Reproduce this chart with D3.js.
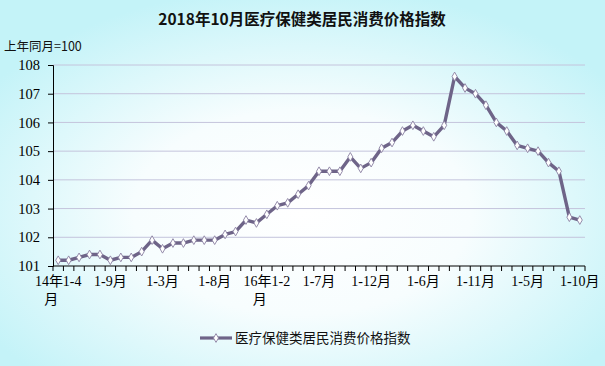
<!DOCTYPE html>
<html><head><meta charset="utf-8">
<script src="https://cdn.jsdelivr.net/npm/d3@7"></script>
<style>html,body{margin:0;padding:0;}svg{display:block;}</style>
</head><body>
<script>
const title = "2018年10月医疗保健类居民消费价格指数";
const yAxisLabel = "上年同月=100";
const seriesName = "医疗保健类居民消费价格指数";
const categories = [
  "14年1-4月","1-5月","1-6月","1-7月","1-8月","1-9月","1-10月","1-11月","1-12月",
  "15年1-2月","1-3月","1-4月","1-5月","1-6月","1-7月","1-8月","1-9月","1-10月","1-11月","1-12月",
  "16年1-2月","1-3月","1-4月","1-5月","1-6月","1-7月","1-8月","1-9月","1-10月","1-11月","1-12月",
  "17年1-2月","1-3月","1-4月","1-5月","1-6月","1-7月","1-8月","1-9月","1-10月","1-11月","1-12月",
  "18年1-2月","1-3月","1-4月","1-5月","1-6月","1-7月","1-8月","1-9月","1-10月"
];
const values = [
  101.2,101.2,101.3,101.4,101.4,101.2,101.3,101.3,101.5,
  101.9,101.6,101.8,101.8,101.9,101.9,101.9,102.1,102.2,102.6,102.5,
  102.8,103.1,103.2,103.5,103.8,104.3,104.3,104.3,104.8,104.4,104.6,
  105.1,105.3,105.7,105.9,105.7,105.5,105.9,107.6,107.2,107.0,106.6,
  106.0,105.7,105.2,105.1,105.0,104.6,104.3,102.7,102.6
];
const yTicks = [101,102,103,104,105,106,107,108];
const labelEvery = 5;

const W = 605, H = 366;
const m = {left:53, right:20, top:65, bottom:100};
const svg = d3.select("body").append("svg").attr("width",W).attr("height",H);
const defs = svg.append("defs");
const rg = defs.append("radialGradient").attr("id","bg").attr("cx","50%").attr("cy","58%").attr("r","62%");
rg.append("stop").attr("offset","0%").attr("stop-color","#ffffff");
rg.append("stop").attr("offset","45%").attr("stop-color","#f7fdfe");
rg.append("stop").attr("offset","100%").attr("stop-color","#c4f3f8");
svg.append("rect").attr("width",W).attr("height",H).attr("fill","url(#bg)");

const x = d3.scaleBand().domain(d3.range(categories.length)).range([m.left, 585]);
const y = d3.scaleLinear().domain([101,108]).range([266, 65]);
const cjk = "'Noto Sans CJK SC', sans-serif";
const serif = "'Liberation Serif', 'Noto Sans CJK SC', serif";

svg.append("text").attr("x",302).attr("y",25).attr("text-anchor","middle")
  .attr("font-family",cjk).attr("font-weight","bold").attr("font-size",15.5).attr("fill","#111").text(title);
svg.append("text").attr("x",4).attr("y",51).attr("font-family",cjk).attr("font-size",12.5).attr("fill","#111").text(yAxisLabel);

// gridlines
svg.append("g").selectAll("line").data(yTicks.filter(d=>d>101)).join("line")
  .attr("x1",m.left).attr("x2",585).attr("y1",d=>y(d)).attr("y2",d=>y(d))
  .attr("stroke","#c4c4dc").attr("stroke-width",1);

// y axis
const ya = svg.append("g").attr("transform",`translate(${m.left},0)`)
  .call(d3.axisLeft(y).tickValues(yTicks).tickSize(5).tickPadding(8).tickFormat(d3.format("d")));
ya.select(".domain").attr("stroke","#000");
ya.selectAll(".tick line").attr("stroke","#000");
ya.selectAll("text").attr("font-family",serif).attr("font-size",14.5).attr("fill","#000");

// x axis
const xa = svg.append("g").attr("transform",`translate(0,${y(101)})`);
xa.append("line").attr("x1",m.left).attr("x2",585).attr("stroke","#000");
const bounds = d3.range(categories.length+1).map(i => i<categories.length ? x(i) : x(i-1)+x.bandwidth());
xa.selectAll(".tk").data(bounds).join("line").attr("class","tk")
  .attr("x1",d=>d).attr("x2",d=>d).attr("y1",0).attr("y2",5).attr("stroke","#000");
const lbl = xa.selectAll(".lb").data(d3.range(0,categories.length,labelEvery)).join("text").attr("class","lb")
  .attr("text-anchor","middle").attr("font-family",serif).attr("font-size",14).attr("fill","#000");
lbl.each(function(i){
  const t = categories[i];
  const cx = x(i)+x.bandwidth()/2;
  const s = d3.select(this);
  if (t.length > 5) {
    s.append("tspan").attr("x",cx).attr("y",20).text(t.slice(0,-1));
    s.append("tspan").attr("x",cx-7).attr("y",38).text(t.slice(-1));
  } else {
    s.append("tspan").attr("x",cx).attr("y",20).text(t);
  }
});

// series line
const lineColor = "#6e6488";
const line = d3.line().x((d,i)=>x(i)+x.bandwidth()/2).y(d=>y(d));
svg.append("path").datum(values).attr("d",line).attr("fill","none")
  .attr("stroke",lineColor).attr("stroke-width",3.4).attr("stroke-linejoin","round");
const diamond = d3.symbol().type(d3.symbolDiamond).size(22);
svg.append("g").selectAll("path").data(values).join("path")
  .attr("transform",(d,i)=>`translate(${x(i)+x.bandwidth()/2},${y(d)})`)
  .attr("d",diamond).attr("fill","#fff").attr("stroke","#8a80a2").attr("stroke-width",0.9);

// legend
const lg = svg.append("g").attr("transform","translate(200,338)");
lg.append("line").attr("x1",0).attr("x2",32).attr("stroke",lineColor).attr("stroke-width",3.2);
lg.append("path").attr("transform","translate(16,0)").attr("d",diamond).attr("fill","#fff").attr("stroke","#8a80a2").attr("stroke-width",0.9);
lg.append("text").attr("x",35).attr("y",5).attr("font-family",cjk).attr("font-size",13.5).attr("fill","#111").text(seriesName);
</script>
</body></html>
